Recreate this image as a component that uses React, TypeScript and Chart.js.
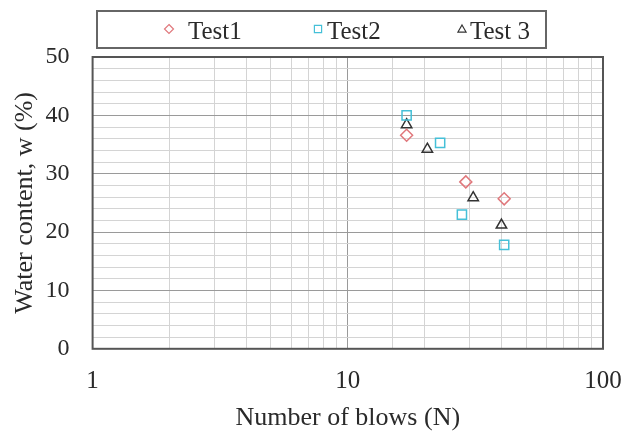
import React, { useEffect, useRef } from 'react';
import { Chart, registerables } from 'chart.js';

Chart.register(...registerables);

// Data
const seriesNames = ['Test1', 'Test2', 'Test 3'];
const test1Blows = [17, 29, 41];
const test1Water = [36.6, 28.6, 25.7];
const test2Blows = [17, 23, 28, 41];
const test2Water = [40.0, 35.3, 23.0, 17.8];
const test3Blows = [17, 20.5, 31, 40];
const test3Water = [38.4, 34.2, 25.9, 21.2];
const xMajorTicks = [1, 10, 100];
const yMajorTicks = [0, 10, 20, 30, 40, 50];

const FONT = "'Liberation Serif', 'Times New Roman', serif";
const colors = ['#e0787c', '#45c0d8', '#333333'];
const styles = ['rectRot', 'rect', 'triangle'];

const toPoints = (xs: number[], ys: number[]) => xs.map((x, i) => ({ x, y: ys[i] }));

const isPow10 = (v: number) => {
  const l = Math.log10(v);
  return Math.abs(l - Math.round(l)) < 1e-9;
};

function drawMarker(ctx: CanvasRenderingContext2D, style: string, x: number, y: number, r: number) {
  ctx.beginPath();
  if (style === 'rectRot') {
    ctx.moveTo(x, y - r);
    ctx.lineTo(x + r, y);
    ctx.lineTo(x, y + r);
    ctx.lineTo(x - r, y);
    ctx.closePath();
  } else if (style === 'rect') {
    const s = r * 0.8;
    ctx.rect(x - s, y - s, 2 * s, 2 * s);
  } else {
    const h = r * 0.9;
    ctx.moveTo(x, y - h);
    ctx.lineTo(x + h, y + h * 0.75);
    ctx.lineTo(x - h, y + h * 0.75);
    ctx.closePath();
  }
  ctx.stroke();
}

const framePlugin = {
  id: 'frameAndLegend',
  afterDraw(chart: any) {
    const { ctx, chartArea } = chart;
    ctx.save();
    // plot frame
    ctx.strokeStyle = '#555';
    ctx.lineWidth = 2;
    ctx.strokeRect(chartArea.left, chartArea.top, chartArea.right - chartArea.left, chartArea.bottom - chartArea.top);
    // legend box
    const bx0 = 97;
    const bx1 = 546;
    const by0 = 11;
    const by1 = 48;
    ctx.strokeStyle = '#666';
    ctx.lineWidth = 2;
    ctx.strokeRect(bx0, by0, bx1 - bx0, by1 - by0);
    const cy = 31;
    const markerX = [169, 318, 462];
    const textX = [188, 327, 470];
    ctx.font = `25px ${FONT}`;
    ctx.textBaseline = 'middle';
    ctx.textAlign = 'left';
    chart.data.datasets.forEach((ds: any, i: number) => {
      ctx.strokeStyle = ds.borderColor;
      ctx.lineWidth = 1.2;
      drawMarker(ctx, ds.pointStyle, markerX[i], cy - 2, 4.5);
      ctx.fillStyle = '#2a2a2a';
      ctx.fillText(ds.label, textX[i], cy + 1);
    });
    ctx.restore();
  },
};

export default function App() {
  const ref = useRef<HTMLCanvasElement | null>(null);
  useEffect(() => {
    if (!ref.current) return;
    const series = [
      toPoints(test1Blows, test1Water),
      toPoints(test2Blows, test2Water),
      toPoints(test3Blows, test3Water),
    ];
    const chart = new Chart(ref.current, {
      type: 'scatter',
      data: {
        datasets: series.map((data, i) => ({
          label: seriesNames[i],
          data,
          pointStyle: styles[i] as any,
          borderColor: colors[i],
          backgroundColor: 'rgba(255,255,255,0)',
          pointRadius: i === 1 ? 6.5 : 6,
          pointBorderWidth: 1.5,
          showLine: false,
        })),
      },
      options: {
        responsive: false,
        animation: false,
        layout: { padding: { top: 57, left: 6, right: 33, bottom: 1 } },
        plugins: {
          legend: { display: false },
          tooltip: { enabled: false },
        },
        scales: {
          x: {
            type: 'logarithmic',
            min: 1,
            max: 100,
            border: { display: false },
            afterFit: (scale: any) => {
              scale.paddingLeft = 0;
              scale.paddingRight = 14;
            },
            grid: {
              drawTicks: false,
              color: (c: any) => (c.tick && isPow10(c.tick.value) ? '#9a9a9a' : '#d4d4d4'),
              lineWidth: 1,
            },
            ticks: {
              autoSkip: false,
              maxRotation: 0,
              padding: 18,
              color: '#2a2a2a',
              font: { family: FONT, size: 25 },
              callback: (v: any) => (xMajorTicks.includes(Number(v)) ? String(v) : ''),
            },
            title: {
              display: true,
              text: 'Number of blows (N)',
              color: '#2a2a2a',
              font: { family: FONT, size: 26 },
              padding: { top: -12, bottom: 0 },
            },
          },
          y: {
            min: 0,
            max: 50,
            border: { display: false },
            grid: {
              drawTicks: false,
              color: (c: any) => (c.tick && c.tick.value % 10 === 0 ? '#9a9a9a' : '#d4d4d4'),
              lineWidth: 1,
            },
            ticks: {
              stepSize: 2,
              autoSkip: false,
              padding: 23,
              color: '#2a2a2a',
              font: { family: FONT, size: 24 },
              callback: (v: any) => (yMajorTicks.includes(Number(v)) ? String(v) : ''),
            },
            title: {
              display: true,
              text: 'Water content, w (%)',
              color: '#2a2a2a',
              font: { family: FONT, size: 26 },
              padding: { top: 4, bottom: -18.6 },
            },
          },
        },
      },
      plugins: [framePlugin],
    });
    return () => chart.destroy();
  }, []);
  return (
    <div style={{ position: 'absolute', left: 0, top: 0, width: 636, height: 435, background: '#fff' }}>
      <canvas ref={ref} width={636} height={435} style={{ display: 'block' }} />
    </div>
  );
}
